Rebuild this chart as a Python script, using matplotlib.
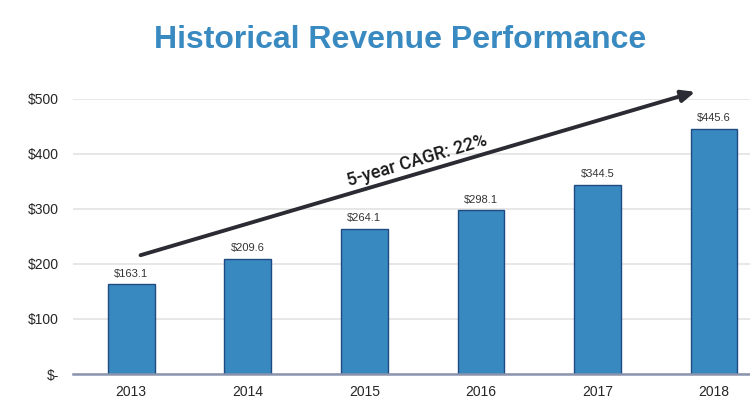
import numpy as np
import matplotlib.pyplot as plt

# ==============================
# Data
# ==============================
years = ["2013", "2014", "2015", "2016", "2017", "2018"]
revenue = [163.1, 209.6, 264.1, 298.1, 344.5, 445.6]
y_ticks = [0, 100, 200, 300, 400, 500]
y_tick_labels = ["$-", "$100", "$200", "$300", "$400", "$500"]

bar_color = "#3789bf"
edge_color = "#1f4a82"
title_color = "#3a8ac2"
text_color = "#262626"

plt.rcParams['font.family'] = ['Liberation Sans', 'DejaVu Sans']

# ==============================
# Figure
# ==============================
fig = plt.figure(figsize=(7.5, 3.98), dpi=100)
ax = fig.add_axes([0.0973, 0.0603, 0.9027, 0.691])

x = np.arange(len(years))
ax.bar(x, revenue, width=0.4, color=bar_color, edgecolor=edge_color, linewidth=1.0, zorder=3)

for xi, v in zip(x, revenue):
    ax.text(xi, v + 10, f"${v:.1f}", ha="center", va="bottom", fontsize=8, color="#333333")

ax.set_xlim(-0.5, 5.31)
ax.set_ylim(0, 500)
ax.set_xticks(x)
ax.set_xticklabels(years, fontsize=10, color=text_color)
ax.set_yticks(y_ticks)
ax.set_yticklabels(y_tick_labels, fontsize=10, color=text_color)
ax.tick_params(length=0, pad=8)
ax.tick_params(axis="y", pad=10)
ax.grid(axis="y", color="#e3e3e3", linewidth=1.2, zorder=0)

for side in ["top", "right", "left"]:
    ax.spines[side].set_visible(False)
ax.spines["bottom"].set_color("#8a94ad")
ax.spines["bottom"].set_linewidth(1.8)
ax.spines["bottom"].set_zorder(4)

# CAGR arrow
ax.annotate("", xy=(4.84, 513), xytext=(0.08, 216),
            arrowprops=dict(arrowstyle="-|>,head_length=0.8,head_width=0.35",
                            color="#2b2b33", lw=2.8, shrinkA=0, shrinkB=0),
            annotation_clip=False, zorder=5)
ax.text(2.45, 387, "5-year CAGR: 22%", rotation=16.5, ha="center", va="center",
        fontsize=13, fontweight="medium", color="#1a1a1a", rotation_mode="anchor",
        family=['Roboto', 'Liberation Sans'], zorder=5)

fig.text(0.533, 0.9, "Historical Revenue Performance", ha="center", va="center",
         fontsize=23, fontweight="bold", color=title_color)

fig.savefig("out.png", dpi=100)
